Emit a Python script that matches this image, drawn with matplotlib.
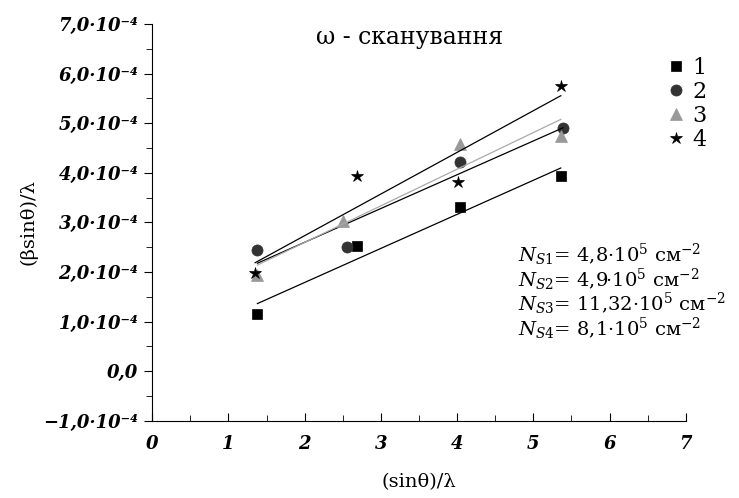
import numpy as np
import matplotlib
matplotlib.use("Agg")
import matplotlib.pyplot as plt
from matplotlib.ticker import MultipleLocator, FuncFormatter

plt.rcParams['font.family'] = ['DejaVu Serif']
plt.rcParams['mathtext.fontset'] = 'custom'
plt.rcParams['mathtext.rm'] = 'DejaVu Serif'
plt.rcParams['mathtext.it'] = 'DejaVu Serif:italic'

# data (y in units of 1e-4)
x1 = [1.38, 2.69, 4.04, 5.36]
y1 = [1.15, 2.52, 3.31, 3.93]
x2 = [1.38, 2.56, 4.04, 5.39]
y2 = [2.44, 2.50, 4.21, 4.90]
x3 = [1.38, 2.50, 4.04, 5.36]
y3 = [1.94, 3.02, 4.58, 4.74]
x4 = [1.35, 2.69, 4.01, 5.36]
y4 = [1.98, 3.93, 3.81, 5.75]

labels = ['1', '2', '3', '4']
ns_text = [r'$N_{S1}$= 4,8·10$^{5}$ см$^{-2}$',
           r'$N_{S2}$= 4,9·10$^{5}$ см$^{-2}$',
           r'$N_{S3}$= 11,32·10$^{5}$ см$^{-2}$',
           r'$N_{S4}$= 8,1·10$^{5}$ см$^{-2}$']

series = [
    (x1, y1, 's', 'black', 'black', 7),
    (x2, y2, 'o', '#333333', 'black', 8),
    (x3, y3, '^', '#999999', '#aaaaaa', 8),
    (x4, y4, '*', 'black', 'black', 9),
]

fig = plt.figure(figsize=(7.39, 4.98), dpi=100)
ax = fig.add_axes([0.206, 0.155, 0.722, 0.797])

for (xs, ys, m, c, lc, ms), lab in zip(series, labels):
    xs = np.array(xs)
    ys = np.array(ys) * 1e-4
    ax.plot(xs, ys, linestyle='none', marker=m, color=c, markersize=ms,
            markeredgewidth=0.5, label=lab)
    k, b = np.polyfit(xs, ys, 1)
    xx = np.array([xs.min(), xs.max()])
    ax.plot(xx, k * xx + b, color=lc, linewidth=0.9)

ax.set_xlim(0, 7)
ax.set_ylim(-1e-4, 7e-4)
ax.spines['top'].set_visible(False)
ax.spines['right'].set_visible(False)
ax.xaxis.set_major_locator(MultipleLocator(1))
ax.xaxis.set_minor_locator(MultipleLocator(0.5))
ax.yaxis.set_major_locator(MultipleLocator(1e-4))
ax.yaxis.set_minor_locator(MultipleLocator(0.5e-4))
ax.tick_params(axis='x', which='both', direction='in', pad=10)
ax.tick_params(axis='y', which='both', direction='out', pad=4)
ax.tick_params(which='major', length=6)
ax.tick_params(which='minor', length=4)


def yfmt(v, pos):
    n = int(round(v * 1e4))
    if n == 0:
        return '0,0'
    s = '\u2212' if n < 0 else ''
    return '%s%d,0·10⁻⁴' % (s, abs(n))


ax.yaxis.set_major_formatter(FuncFormatter(yfmt))
ax.xaxis.set_major_formatter(FuncFormatter(lambda v, p: '%d' % int(round(v))))
for t in ax.get_xticklabels() + ax.get_yticklabels():
    t.set_fontsize(13)
    t.set_fontstyle('italic')
    t.set_fontweight('bold')

ax.set_xlabel('(sinθ)/λ', fontsize=14, labelpad=15)
ax.set_ylabel('(βsinθ)/λ', fontsize=14, labelpad=4)

ax.text(3.38, 6.72e-4, 'ω - сканування', fontsize=17, ha='center', va='center')

ax.legend(loc='upper right', bbox_to_anchor=(1.055, 0.94), frameon=False,
          handlelength=0.6, handletextpad=0.4, labelspacing=0.1, fontsize=16,
          borderaxespad=0)

for i, t in enumerate(ns_text):
    ax.text(4.8, 2.35e-4 - i * 0.5e-4, t, fontsize=14, ha='left', va='center')

fig.savefig('out.png', dpi=100)
